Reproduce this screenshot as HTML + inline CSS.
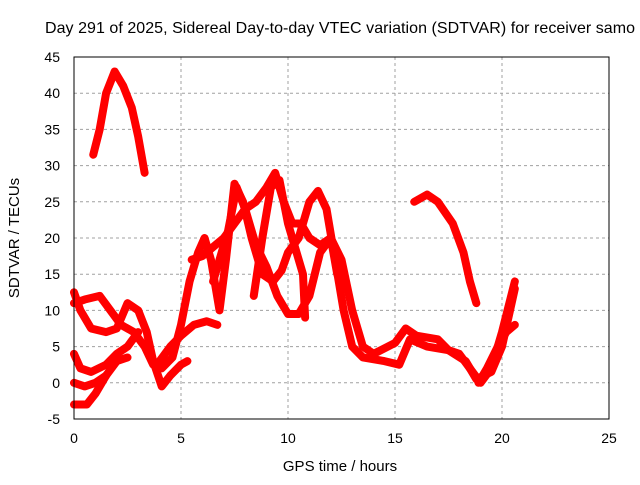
<!DOCTYPE html>
<html><head><meta charset="utf-8"><style>
body{margin:0;background:#fff}
text{font-family:"Liberation Sans",sans-serif;font-size:14px;fill:#000}
</style></head><body>
<svg id="c" width="640" height="480">
<rect x="0" y="0" width="640" height="480" fill="#fff"/>
<g id="grid"></g>
<g id="series"></g>
<rect x="74" y="57" width="535" height="362" fill="none" stroke="#000"/>
<g id="ticks"></g>
<text x="340" y="33" text-anchor="middle" textLength="590" style="font-size:16px">Day 291 of 2025, Sidereal Day-to-day VTEC variation (SDTVAR) for receiver samo</text>
<text x="340" y="471" text-anchor="middle" style="font-size:15px">GPS time / hours</text>
<text transform="translate(19,238) rotate(-90)" text-anchor="middle" style="font-size:15px">SDTVAR / TECUs</text>
</svg>
<script>
const xTicks=[0,5,10,15,20,25];
const yTicks=[-5,0,5,10,15,20,25,30,35,40,45];
const s1=[[0.9,31.5],[1.2,35],[1.5,40],[1.9,43],[2.3,41],[2.7,38],[3.0,34],[3.3,29]];
const s2=[[15.9,25],[16.5,26],[17,25],[17.7,22],[18.2,18],[18.5,14],[18.8,11]];
const s3=[[0,11],[0.5,11.5],[1.2,12],[1.7,10],[2.2,8],[2.8,7],[3.3,5],[3.7,2.5],[4.1,2],[4.6,3.5],[5,8],[5.4,14],[5.8,18],[6.1,20],[6.4,17],[6.8,10],[7.1,17],[7.5,27.5],[7.9,25],[8.3,20],[8.8,15],[9.3,14],[9.7,15.5],[10.0,18],[10.5,20],[11,25],[11.4,26.5],[11.8,24],[12.2,17],[12.6,10],[13,5],[13.5,3.5],[14.5,3],[15.2,2.5],[15.7,6],[16.5,5],[17.5,4.5],[18.3,3],[18.8,0.5],[19.5,1.5],[20,5],[20.6,13]];
const s4=[[0,4],[0.3,2],[0.8,1.5],[1.5,2.5],[2,4],[2.5,5],[3,7]];
const s5=[[0,-3],[0.6,-3],[1,-1.5],[1.5,1],[2,3],[2.5,3.5]];
const s6=[[0,12.5],[0.3,10],[0.8,7.5],[1.5,7],[2,7.5],[2.5,11],[3.0,10],[3.4,7],[3.7,3],[4.1,-0.5],[4.5,1],[5,2.5],[5.3,3]];
const s7=[[4.0,3],[4.5,5],[5,6.5],[5.6,8],[6.2,8.5],[6.7,8]];
const s8=[[5.5,17],[6.0,17.5],[6.6,19],[7,20],[7.5,22],[8,24],[8.5,25],[9,27],[9.4,29],[9.8,25],[10.2,22],[10.6,22],[11,20],[11.5,19],[12,20],[12.5,17],[13,10],[13.5,5],[14,4],[15,5.5],[15.5,7.5],[16,6.5],[17,6],[17.5,4.5],[18,4],[18.5,2],[19,0],[19.5,2],[20,7],[20.6,14]];
const s9=[[6.5,14],[7.2,21],[7.6,27],[8,24],[8.5,19],[9,16],[9.5,12],[10,9.5],[10.5,9.5],[11,12],[11.5,18],[12,20],[12.3,15]];
const s10=[[8.4,12],[8.8,20],[9.2,27],[9.6,28],[10,22],[10.3,19],[10.7,15],[10.8,9]];
const s11=[[0,0],[0.5,-0.5],[1,0],[1.5,1]];
const s12=[[20.6,8],[20.2,7],[19.8,5],[19.3,2],[18.9,0]];
const allSeries=[s1,s2,s3,s4,s5,s6,s7,s8,s9,s10,s11,s12];
const NS="http://www.w3.org/2000/svg";
const X=v=>74+v*535/25, Y=v=>419-(v+5)*362/50;
const grid=document.getElementById('grid'),ticks=document.getElementById('ticks'),ser=document.getElementById('series');
function mk(tag,attrs,parent){const e=document.createElementNS(NS,tag);for(const k in attrs)e.setAttribute(k,attrs[k]);parent.appendChild(e);return e;}
xTicks.forEach(t=>{
 if(t>0&&t<25){const g=mk('line',{x1:X(t),x2:X(t),y1:57,y2:419,stroke:'#a0a0a0','stroke-dasharray':'3,3'},grid);
 
 }
 const l=mk('text',{x:X(t),y:443,'text-anchor':'middle'},ticks);l.textContent=t;
 
 
});
yTicks.forEach(t=>{
 if(t>-5&&t<45){const g=mk('line',{x1:74,x2:609,y1:Y(t),y2:Y(t),stroke:'#a0a0a0','stroke-dasharray':'3,3'},grid);
 
 }
 const l=mk('text',{x:60,y:Y(t)+5,'text-anchor':'end'},ticks);l.textContent=t;
 
 
});
allSeries.forEach(s=>{
 const p=mk('polyline',{points:s.map(d=>X(d[0])+','+Y(d[1])).join(' '),fill:'none',stroke:'#ff0000','stroke-width':8,'stroke-linejoin':'round','stroke-linecap':'round'},ser);
 
 
});
</script>
</body></html>
